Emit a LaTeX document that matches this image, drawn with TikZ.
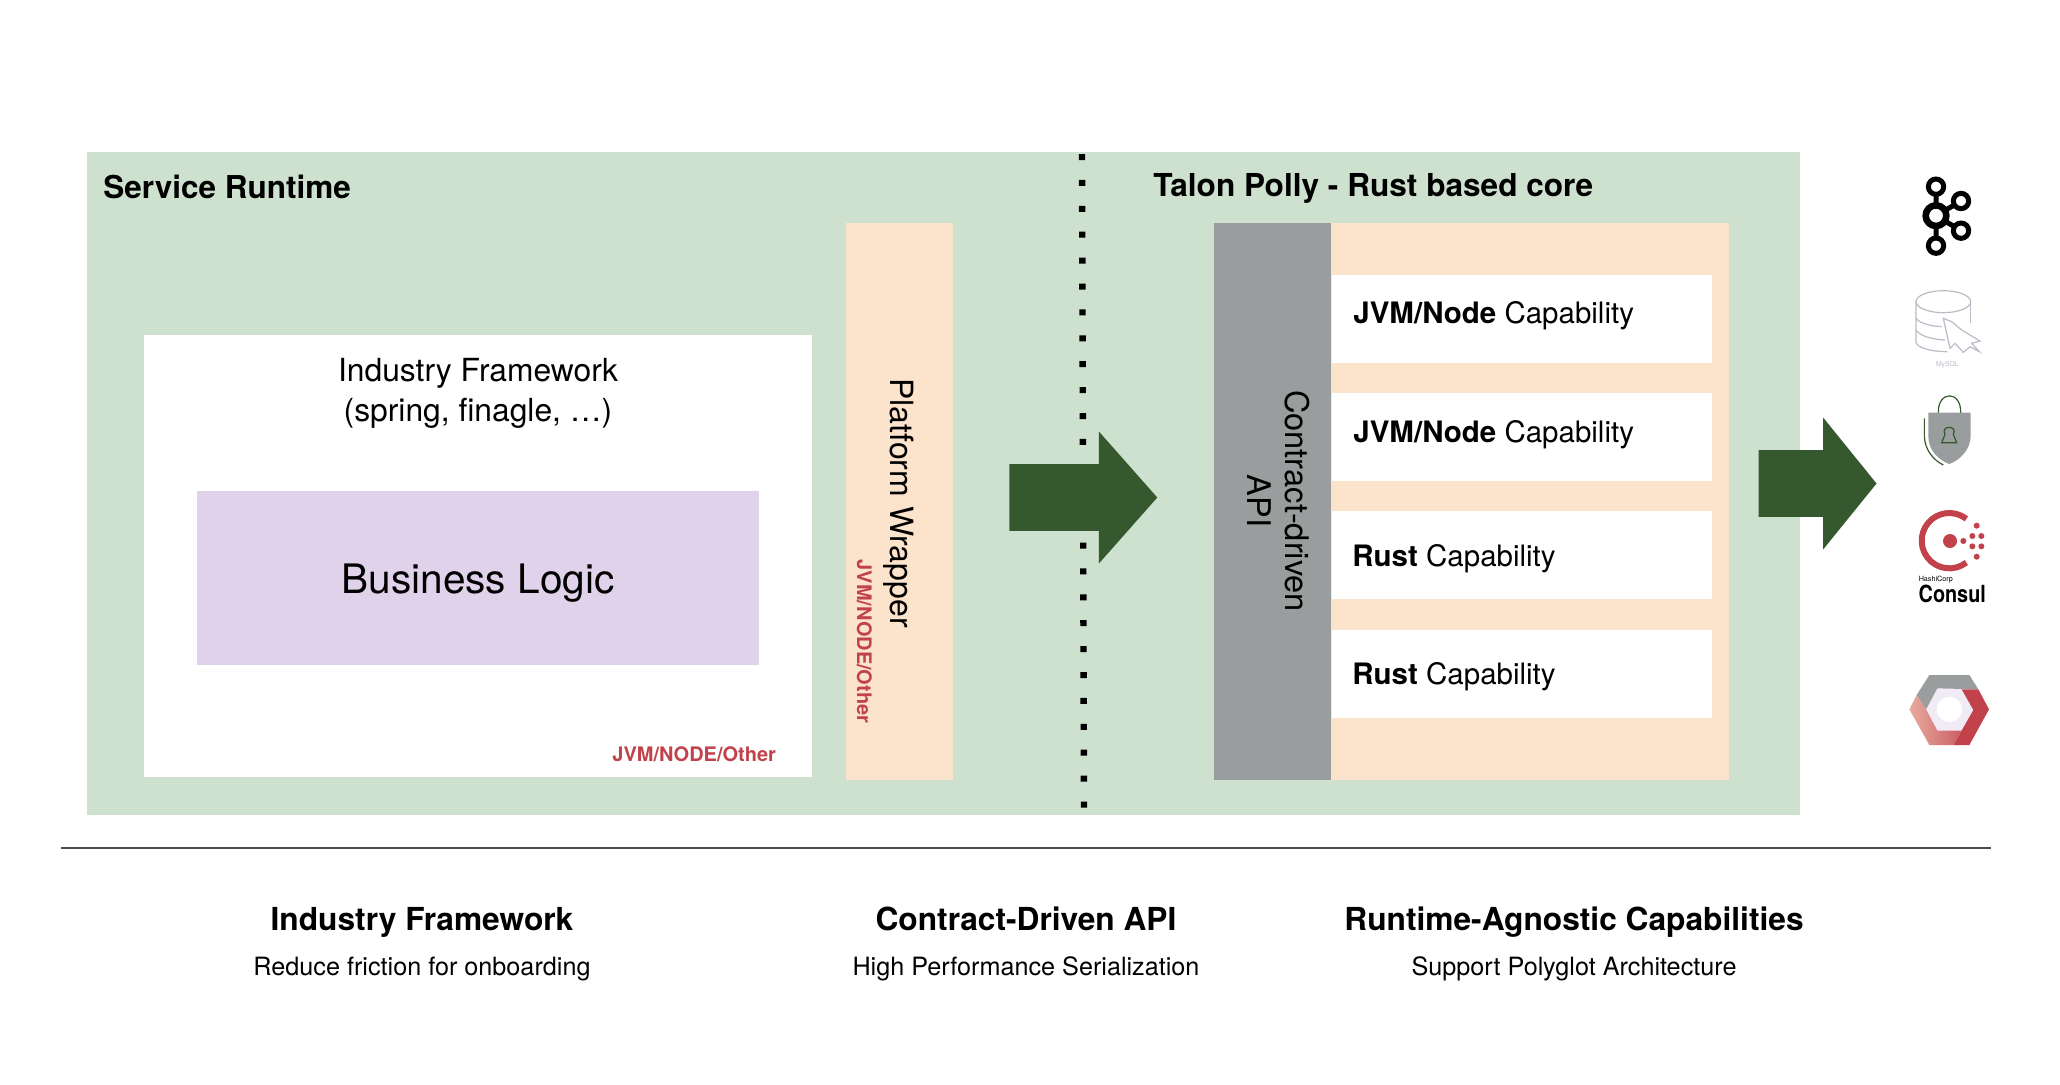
\documentclass[tikz,border=0pt]{standalone}
\usepackage{fontspec}
\setmainfont{TeX Gyre Heros}
\usetikzlibrary{positioning,shapes.arrows}
\definecolor{runtimegreen}{HTML}{CEE1CF}
\definecolor{wrapperpeach}{HTML}{FCE3CB}
\definecolor{apigray}{HTML}{9A9D9D}
\definecolor{logicpurple}{HTML}{E0D2EB}
\definecolor{arrowgreen}{HTML}{35582F}
\definecolor{langred}{HTML}{C2424B}
\definecolor{sqlgray}{HTML}{BDBAC6}

\begin{document}
\begin{tikzpicture}[x=0.5pt, y=-0.5pt,
                    box/.style = {rectangle, inner sep=0pt, outer sep=0pt},
                    peach box/.style = {box, fill=wrapperpeach},
                    capability/.style = {box, fill=white, minimum width=190pt, minimum height=44pt},
                    capability text/.style = {anchor=base west, inner sep=0pt, font=\fontsize{14.75pt}{17pt}\selectfont},
                    heading/.style = {anchor=base west, inner sep=0pt, font=\fontsize{15.75pt}{18pt}\selectfont\bfseries},
                    summary title/.style = {anchor=base, inner sep=0pt, font=\fontsize{15.85pt}{18pt}\selectfont\bfseries},
                    summary text/.style = {anchor=base, inner sep=0pt, font=\fontsize{12.6pt}{15pt}\selectfont},
                    lang tag/.style = {inner sep=0pt, text=langred, font=\fontsize{10pt}{12pt}\selectfont\bfseries},
                    flow arrow/.style = {single arrow, fill=arrowgreen, inner xsep=0pt, inner ysep=16.5pt, single arrow head indent=0pt,
                                         single arrow head extend=16.25pt, minimum width=65.5pt}]
                \useasboundingbox (0,0) rectangle (2060,1084);
                % runtime background
                \node at (943.5,483.5) [box, fill=runtimegreen, minimum width=856.5pt, minimum height=331.5pt] (runtime) {};
                \node at (103,198) [heading] (runtimeTitle) {Service Runtime};
                \node at (1153,196) [heading, font=\fontsize{15.8pt}{18pt}\selectfont\bfseries] (coreTitle) {Talon Polly - Rust based core};
                % framework left
                \node at (478,556) [box, fill=white, minimum width=334pt, minimum height=221pt] (framework) {};
                \node at (478,421) [anchor=base, inner sep=0pt, align=center, font=\fontsize{15.9pt}{19.7pt}\selectfont] (frameworkText) {Industry Framework\\(spring, finagle, \dots)};
                \node at (478,578) [box, fill=logicpurple, minimum width=281pt, minimum height=87pt, text height=20pt, font=\fontsize{20.3pt}{24pt}\selectfont] (logic) {Business Logic};
                \node at (612,761) [lang tag, anchor=base west] (frameworkLang) {JVM/NODE/Other};
                % wrapper
                \node at (899.5,501.5) [peach box, minimum width=53.5pt, minimum height=278.5pt] (wrapper) {};
                \node at (890,503) [anchor=base, rotate=-90, inner sep=0pt, font=\fontsize{16pt}{19pt}\selectfont] (wrapperText) {Platform Wrapper};
                \node at (857,641.5) [lang tag, anchor=base, rotate=-90] (wrapperLang) {JVM/NODE/Other};
                % divider
                \coordinate (dividerTop) at (1082,154);
                \coordinate (dividerBottom) at (1084,808);
                \draw[line width=3.2pt, dash pattern=on 3pt off 9.95pt] (dividerTop) -- (dividerBottom);
                % arrows
                \node at (1068.5,497.5) [flow arrow, single arrow tip angle=97, minimum height=74pt] (flowCore) {};
                \node at (1804,483.5) [flow arrow, single arrow tip angle=102, minimum height=59pt] (flowBackends) {};
                % core right
                \node at (1530,501.5) [peach box, minimum width=199pt, minimum height=278.5pt] (core) {};
                \node at (1272.5,501.5) [box, fill=apigray, minimum width=58.5pt, minimum height=278.5pt] (api) {};
                \node at (1279,501) [rotate=-90, inner sep=0pt, align=center, font=\fontsize{16.3pt}{19pt}\selectfont] (apiText) {Contract-driven\\API};
                \node at (1522,319) [capability] (capA) {};
                \node at (1522,437) [capability] (capB) {};
                \node at (1522,555) [capability] (capC) {};
                \node at (1522,674) [capability] (capD) {};
                \node at (1353,323) [capability text] (capAText) {\textbf{JVM/Node} Capability};
                \node at (1353,442) [capability text] (capBText) {\textbf{JVM/Node} Capability};
                \node at (1352,566) [capability text] (capCText) {\textbf{Rust} Capability};
                \node at (1352,684) [capability text] (capDText) {\textbf{Rust} Capability};
                % rule and summaries
                \coordinate (ruleLeft) at (61,848);
                \coordinate (ruleRight) at (1991,848);
                \draw[line width=0.8pt, draw=black!70] (ruleLeft) -- (ruleRight);
                \node at (422,930) [summary title] (sumFramework) {Industry Framework};
                \node at (422,975) [summary text] (sumFrameworkText) {Reduce friction for onboarding};
                \node at (1026,930) [summary title] (sumApi) {Contract-Driven API};
                \node at (1026,975) [summary text] (sumApiText) {High Performance Serialization};
                \node at (1574,930) [summary title] (sumCap) {Runtime-Agnostic Capabilities};
                \node at (1574,975) [summary text] (sumCapText) {Support Polyglot Architecture};
                % kafka icon
                \begin{scope}[shift={(1860,150)}, x=0.16667pt, y=-0.16667pt, line width=2.5pt]
                    \draw (228,110) -- (228,287) (228,197) -- (303,153) (228,197) -- (303,242);
                    \foreach \cx/\cy in {228/110, 303/153, 303/242, 228/287}
                        \draw[fill=white] (\cx,\cy) circle (23);
                    \draw[fill=white, line width=3.3pt] (228,197) circle (31);
                \end{scope}
                % mysql icon
                \begin{scope}[shift={(1860,150)}, x=0.16667pt, y=-0.16667pt, draw=sqlgray, line width=0.6pt]
                    \draw (250,455) ellipse [x radius=82, y radius=33];
                    \draw (168,455) -- (168,578) .. controls (175,595) and (215,605) .. (262,605);
                    \draw (332,455) -- (332,520);
                    \draw (168,505) .. controls (180,520) and (210,528) .. (245,530);
                    \draw (168,540) .. controls (180,558) and (215,568) .. (255,570);
                    \draw[fill=white] (250,505) -- (275,515) -- (305,540) -- (330,555) -- (360,573) -- (335,580) -- (358,605)
                        -- (330,590) -- (310,607) -- (285,580) -- (270,595) -- (262,560) -- cycle;
                    \node at (262,643) [inner sep=0pt, text=sqlgray, font=\fontsize{3.4pt}{4pt}\selectfont] (sqlText) {MySQL};
                \end{scope}
                % lock icon
                \begin{scope}[shift={(1860,150)}, x=0.16667pt, y=-0.16667pt, line width=0.6pt]
                    \draw[arrowgreen] (235,790) .. controls (232,720) and (305,720) .. (302,790);
                    \fill[apigray] (205,788) -- (332,788) -- (332,860) .. controls (330,900) and (300,930) .. (268,942)
                        .. controls (235,930) and (205,900) .. (205,860) -- cycle;
                    \draw[arrowgreen] (193,805) -- (193,860) .. controls (195,900) and (220,930) .. (250,945);
                    \draw[arrowgreen] (255,853) .. controls (240,825) and (295,825) .. (280,853) -- (290,878) -- (245,878) -- cycle;
                \end{scope}
                % consul icon
                \begin{scope}[shift={(1860,480)}, x=0.16667pt, y=-0.16667pt]
                    \draw[langred, line width=3pt] (268,182) ++(52:83) arc [start angle=52, end angle=308, radius=83];
                    \fill[langred] (270,183) circle (21);
                    \foreach \cx/\cy in {310/183, 337/168, 364/168, 350/137, 337/199, 364/199, 350/230}
                        \fill[langred] (\cx,\cy) circle (9);
                    \node at (175,305) [anchor=base west, inner sep=0pt, font=\fontsize{3.6pt}{4pt}\selectfont] (consulVendor) {HashiCorp};
                    \node at (175,368) [anchor=base west, inner sep=0pt, xscale=0.84, font=\fontsize{11.8pt}{14pt}\selectfont\bfseries] (consulText) {Consul};
                \end{scope}
                % hexagon icon
                \begin{scope}[shift={(1860,480)}, x=0.16667pt, y=-0.16667pt]
                    \fill[logicpurple!45] (198,688) -- (232,625) -- (305,625) -- (340,690) -- (305,752) -- (232,752) -- cycle;
                    \fill[white] (268,688) circle (38);
                    \fill[apigray] (170,645) -- (208,585) -- (328,585) -- (355,628) -- (232,625) -- (198,688) -- cycle;
                    \fill[langred] (305,628) -- (355,628) -- (387,688) -- (328,795) -- (280,795) -- (340,690) -- cycle;
                    \shade[left color=langred!35!wrapperpeach, right color=langred!85!white] (148,688) -- (170,645) -- (198,688) -- (232,752) -- (305,752) -- (280,795) -- (208,795) -- cycle;
                \end{scope}
            \end{tikzpicture}
\end{document}
